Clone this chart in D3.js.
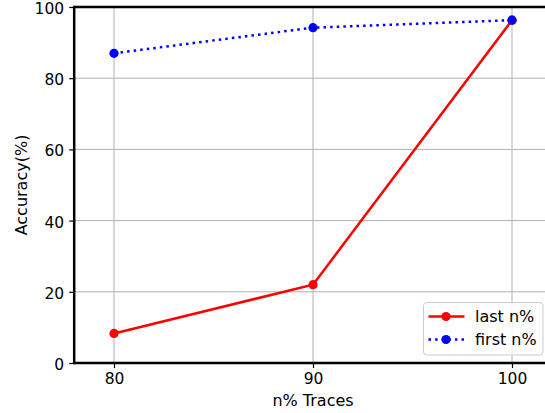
<!DOCTYPE html>
<html>
<head>
<meta charset="utf-8">
<script src="https://cdn.jsdelivr.net/npm/d3@7"></script>
<style>
  body { margin: 0; background: #fff; }
  text { font-family: "DejaVu Sans", sans-serif; }
</style>
</head>
<body>
<div id="chart"></div>
<script>
var traces = [80, 90, 100];
var lastN = [8.3, 22.0, 96.3];
var firstN = [87.0, 94.2, 96.3];
var xTicks = [80, 90, 100];
var yTicks = [0, 20, 40, 60, 80, 100];

var width = 545, height = 413;

var x = d3.scaleLinear().domain([78, 102]).range([74.2, 551.8]);
var y = d3.scaleLinear().domain([0, 100]).range([363, 7]);

var svg = d3.select("#chart").append("svg")
    .attr("width", width)
    .attr("height", height)
    .style("display", "block");

// grid
svg.append("g").selectAll("line")
  .data(xTicks).enter().append("line")
  .attr("x1", d => x(d)).attr("x2", d => x(d))
  .attr("y1", y(0)).attr("y2", y(100))
  .style("stroke", "#b0b0b0").style("stroke-width", 1);
svg.append("g").selectAll("line")
  .data(yTicks).enter().append("line")
  .attr("x1", x(78)).attr("x2", x(102))
  .attr("y1", d => y(d)).attr("y2", d => y(d))
  .style("stroke", "#b0b0b0").style("stroke-width", 1);

// axes
var xAxis = svg.append("g")
  .attr("transform", "translate(0," + y(0) + ")")
  .call(d3.axisBottom(x).tickValues(xTicks).tickSize(5).tickPadding(5).tickFormat(d3.format("d")));
var yAxis = svg.append("g")
  .attr("transform", "translate(" + x(78) + ",0)")
  .call(d3.axisLeft(y).tickValues(yTicks).tickSize(5).tickPadding(5).tickFormat(d3.format("d")));

[xAxis, yAxis].forEach(function(a) {
  a.select(".domain").remove();
  a.selectAll("text").style("font-size", "15.5px").style("fill", "#000")
    .style("font-family", "DejaVu Sans, sans-serif");
  a.selectAll("line").style("stroke", "#000").style("stroke-width", 1.2);
});
yAxis.selectAll("text").attr("dy", "0.42em");

// spines
svg.append("line").attr("x1", x(78)).attr("x2", x(102)).attr("y1", y(0)).attr("y2", y(0))
  .style("stroke", "#000").style("stroke-width", 2.5);
svg.append("line").attr("x1", x(78)).attr("x2", x(102)).attr("y1", y(100)).attr("y2", y(100))
  .style("stroke", "#000").style("stroke-width", 2.5);
svg.append("line").attr("x1", x(78)).attr("x2", x(78)).attr("y1", y(0) + 1.25).attr("y2", y(100) - 1.25)
  .style("stroke", "#000").style("stroke-width", 2.5);

var line = d3.line().x(d => x(d[0])).y(d => y(d[1]));

var series = [
  {name: "last n%", values: lastN, color: "#ff0000", dash: null},
  {name: "first n%", values: firstN, color: "#0000ff", dash: "2.5,4.1"}
];

series.forEach(function(s) {
  var pts = traces.map((t, i) => [t, s.values[i]]);
  svg.append("path").datum(pts)
    .attr("d", line)
    .style("fill", "none")
    .style("stroke", s.color)
    .style("stroke-width", 2.5)
    .style("stroke-dasharray", s.dash);
  svg.append("g").selectAll("circle").data(pts).enter().append("circle")
    .attr("cx", d => x(d[0])).attr("cy", d => y(d[1]))
    .attr("r", 4.6)
    .style("fill", s.color);
});

// labels
svg.append("text")
  .attr("x", x(90)).attr("y", 406)
  .attr("text-anchor", "middle")
  .style("font-size", "16px")
  .text("n% Traces");
svg.append("text")
  .attr("transform", "translate(27," + y(50) + ") rotate(-90)")
  .attr("text-anchor", "middle")
  .style("font-size", "16px")
  .text("Accuracy(%)");

// legend
var leg = svg.append("g").attr("transform", "translate(423.5,302.5)");
leg.append("rect")
  .attr("width", 119.5).attr("height", 52.5).attr("rx", 3)
  .style("fill", "#fff").style("fill-opacity", 0.8)
  .style("stroke", "#cccccc").style("stroke-width", 1);
series.forEach(function(s, i) {
  var yy = 14 + i * 23;
  leg.append("line").attr("x1", 5).attr("x2", 41).attr("y1", yy).attr("y2", yy)
    .style("stroke", s.color).style("stroke-width", 2.5).style("stroke-dasharray", s.dash);
  leg.append("circle").attr("cx", 22.5).attr("cy", yy).attr("r", 4.6).style("fill", s.color);
  leg.append("text").attr("x", 51.5).attr("y", yy + 5.5)
    .style("font-size", "16px").text(s.name);
});
</script>
</body>
</html>
